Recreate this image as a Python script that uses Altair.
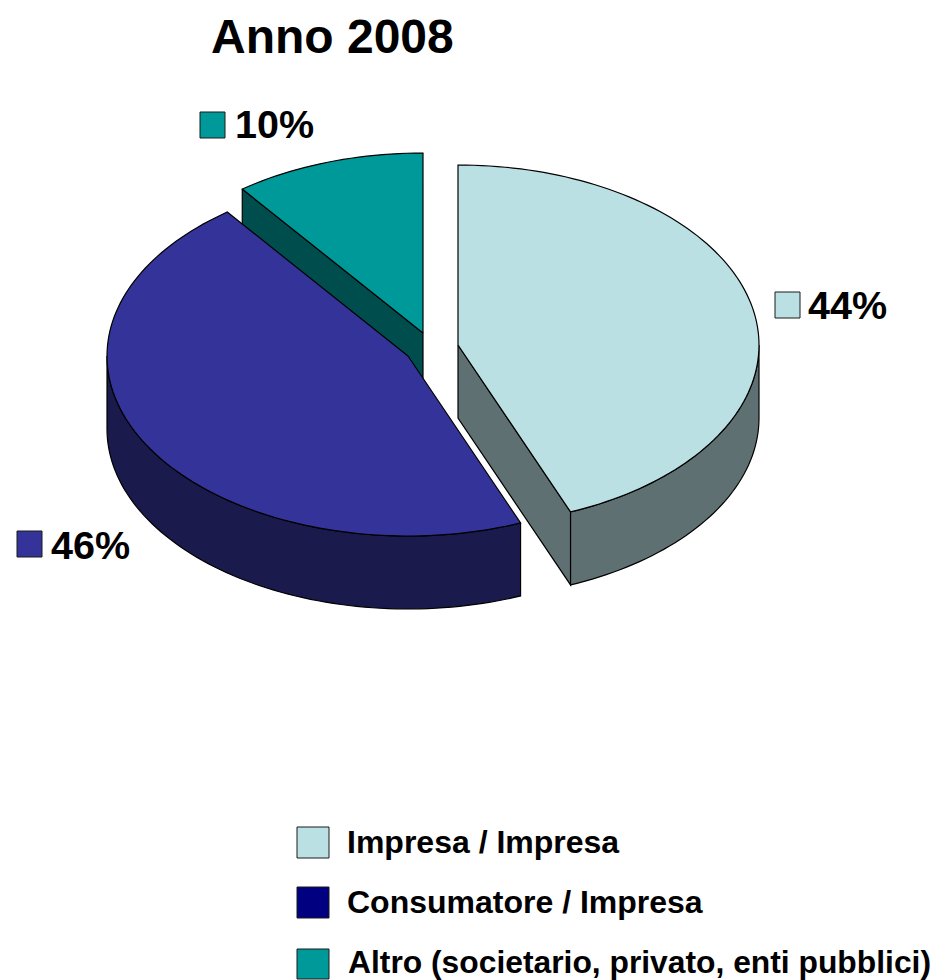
import math
import altair as alt
import pandas as pd

TITLE = "Anno 2008"
CATEGORIES = ["Impresa / Impresa", "Consumatore / Impresa", "Altro (societario, privato, enti pubblici)"]
SHARES = [43.9, 45.85, 10.25]
TOP_COLORS = ["#BBE0E3", "#333399", "#009999"]
SIDE_COLORS = ["#5E7072", "#1A1A4D", "#004D4D"]
LEGEND_COLORS = ["#BBE0E3", "#000080", "#009999"]

W, H = 926, 972
OFF = 8
RX, RY, DEPTH = 301, 180, 73
CENTERS = [(458, 345), (408, 356), (423, 333)]  # exploded slice apexes, page pixels
FONT = "Liberation Sans"

def px(v):
    return v - OFF

X = alt.X("x:Q", axis=None, scale=alt.Scale(domain=[0, W], range=[0, W]))
Y = alt.Y("y:Q", axis=None, scale=alt.Scale(domain=[0, H], range=[0, H]))

cum = [0]
for s in SHARES:
    cum.append(cum[-1] + s)
ANG = [c * 360 / 100 for c in cum]

def pt(c, deg, drop=0):
    t = math.radians(deg)
    return (c[0] + RX * math.sin(t), c[1] - RY * math.cos(t) + drop)

def arc(c, a0, a1, drop=0):
    n = max(2, int(abs(a1 - a0) / 1.5))
    return [pt(c, a0 + (a1 - a0) * k / n, drop) for k in range(n + 1)]

def poly(points, fill):
    pts = list(points) + [points[0]]
    df = pd.DataFrame({"x": [px(p[0]) for p in pts], "y": [px(p[1]) for p in pts], "o": range(len(pts))})
    return alt.Chart(df).mark_line(fill=fill, stroke="#000000", strokeWidth=1.2, interpolate="linear", strokeJoin="miter").encode(
        x=X, y=Y, order=alt.Order("o:Q"))

layers = []
# teal slice
c = CENTERS[2]
a0, a1 = ANG[2], ANG[3]
left = pt(c, a0)
layers.append(poly([left, c, (c[0], c[1] + DEPTH), (left[0], left[1] + DEPTH)], SIDE_COLORS[2]))
layers.append(poly([c] + arc(c, a0, a1), TOP_COLORS[2]))
# purple slice
c = CENTERS[1]
a0, a1 = ANG[1], ANG[2]
layers.append(poly(arc(c, a0, 270) + arc(c, 270, a0, DEPTH), SIDE_COLORS[1]))
layers.append(poly([c] + arc(c, a0, a1), TOP_COLORS[1]))
# light slice
c = CENTERS[0]
a0, a1 = ANG[0], ANG[1]
end = pt(c, a1)
layers.append(poly([c, end, (end[0], end[1] + DEPTH), (c[0], c[1] + DEPTH)], SIDE_COLORS[0]))
layers.append(poly(arc(c, 90, a1) + arc(c, a1, 90, DEPTH), SIDE_COLORS[0]))
layers.append(poly([c] + arc(c, a0, a1), TOP_COLORS[0]))

def text(s, x, y, size):
    return alt.Chart(pd.DataFrame({"t": [s]})).mark_text(
        font=FONT, fontWeight="bold", fontSize=size, align="left", baseline="alphabetic", color="#000000"
    ).encode(x=alt.value(px(x)), y=alt.value(px(y)), text="t:N")

def swatch(x0, y0, x1, y1, color):
    return alt.Chart(pd.DataFrame({"k": [0]})).mark_rect(fill=color, stroke="#1a1a1a", strokeWidth=1).encode(
        x=alt.value(px(x0)), x2=alt.value(px(x1)), y=alt.value(px(y0)), y2=alt.value(px(y1)))

layers.append(text(TITLE, 211, 53, 48))

# slice labels
LABEL_POS = [(775, 292, 808, 319), (17, 531, 51, 559), (200, 112, 235, 138)]
for i, (sx, sy, tx, ty) in enumerate(LABEL_POS):
    layers.append(swatch(sx, sy, sx + 25, sy + 26, TOP_COLORS[i]))
    layers.append(text(f"{round(SHARES[i])}%", tx, ty, 39.5))

# legend
LEG_POS = [(827, 347, 853, 32), (887, 347, 913, 32), (949, 348, 973, 31.8)]
for i, (sy, tx, ty, fs) in enumerate(LEG_POS):
    layers.append(swatch(297, sy, 329, sy + 30 if i == 2 else sy + 31, LEGEND_COLORS[i]))
    layers.append(text(CATEGORIES[i], tx, ty, fs))

chart = alt.layer(*layers).properties(
    width=W, height=H, padding=0, autosize=alt.AutoSizeParams(type="none"), background="#ffffff"
).configure_view(stroke=None)

chart.save("out.html", embed_options={"renderer": "svg", "actions": False})
